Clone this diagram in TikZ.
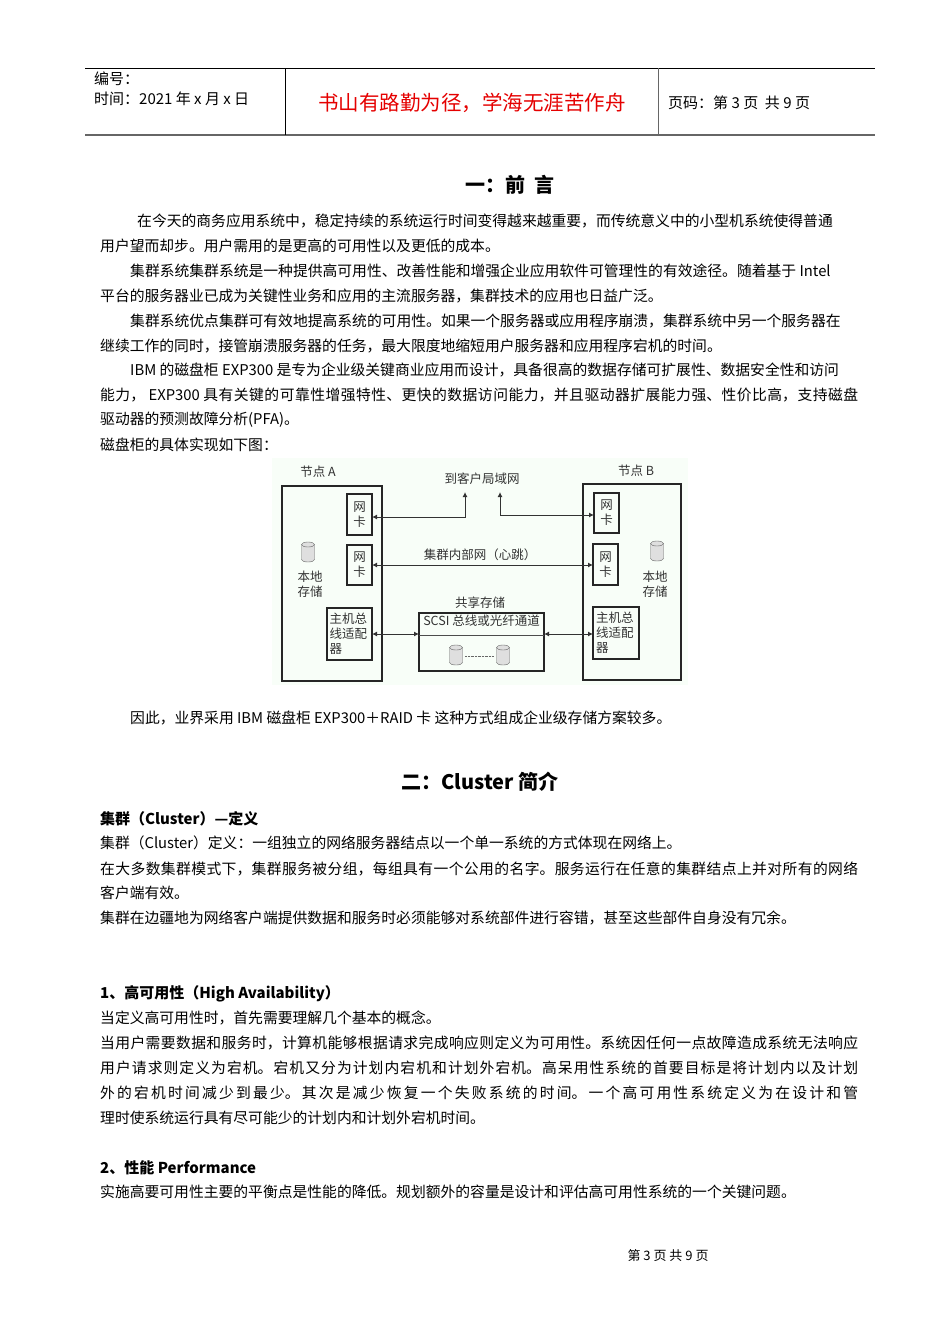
\documentclass[tikz,border=0pt]{standalone}
\usepackage{fontspec}
\setmainfont{Noto Sans CJK SC}
\usetikzlibrary{shapes.geometric,arrows.meta}
\definecolor{dg}{HTML}{333333}
\newcommand\jtxt[1]{\parbox{758pt}{\parfillskip=0pt\XeTeXlinebreaklocale "zh"\XeTeXlinebreakskip=0pt plus 4pt #1}}
\newcommand\cylx[2]{%
 \filldraw[draw=black!60,fill=gray!25] (#1-6.5,#2-7.5) -- (#1-6.5,#2+7.5) arc[start angle=180,end angle=360,x radius=6.5,y radius=-2.5] -- (#1+6.5,#2-7.5) arc[start angle=0,end angle=180,x radius=6.5,y radius=-2.5] -- cycle;
 \draw[black!60] (#1-6.5,#2-7.5) arc[start angle=180,end angle=360,x radius=6.5,y radius=-2.5];}
\tikzset{
 tl/.style={anchor=west,inner sep=0pt,font=\fontsize{14.8}{16}\selectfont},
 hd/.style={anchor=west,inner sep=0pt,font=\fontsize{15}{16}\selectfont\bfseries},
 dt/.style={inner sep=0pt,font=\fontsize{12.5}{15}\selectfont,text=dg,align=center},
 bx/.style={draw=black!85,line width=1.5pt},
 ar/.style={draw=black!80,line width=1pt,{Latex[length=5pt,width=5pt]}-{Latex[length=5pt,width=5pt]}}
}
\begin{document}
\begin{tikzpicture}[x=1pt,y=-1pt]
\useasboundingbox (0,0) rectangle (950,1344);
\fill[white] (0,0) rectangle (950,1344);
% header
\draw[line width=0.8pt] (85,68) -- (875,68);
\draw[line width=1.2pt,black!60] (85,135) -- (875,135);
\draw[line width=0.8pt] (285,68) -- (285,135);
\draw[line width=0.8pt,black!60] (658,68) -- (658,135);
\node[anchor=west,inner sep=0pt,font=\fontsize{15}{16}\selectfont] (h1) at (94,79) {编号：};
\node[anchor=west,inner sep=0pt,font=\fontsize{15}{16}\selectfont] (h2) at (94,99) {时间：2021 年 x 月 x 日};
\node[inner sep=0pt,text=red!90!black,font=\fontsize{20.5}{22}\selectfont] (h3) at (472,103) {书山有路勤为径，学海无涯苦作舟};
\node[anchor=west,inner sep=0pt,font=\fontsize{15}{16}\selectfont] (h4) at (668,103) {页码：第 3 页\ \ 共 9 页};
% section 1
\node[inner sep=0pt,font=\fontsize{20}{22}\selectfont\bfseries] (s1) at (510,185) {一：前\ \ 言};
\node[tl] (p1) at (137,221) {在今天的商务应用系统中，稳定持续的系统运行时间变得越来越重要，而传统意义中的小型机系统使得普通};
\node[tl] (p2) at (100,246) {用户望而却步。用户需用的是更高的可用性以及更低的成本。};
\node[tl] (p3) at (130,271) {集群系统集群系统是一种提供高可用性、改善性能和增强企业应用软件可管理性的有效途径。随着基于 Intel};
\node[tl] (p4) at (100,296) {平台的服务器业已成为关键性业务和应用的主流服务器，集群技术的应用也日益广泛。};
\node[tl] (p5) at (130,321) {集群系统优点集群可有效地提高系统的可用性。如果一个服务器或应用程序崩溃，集群系统中另一个服务器在};
\node[tl] (p6) at (100,346) {继续工作的同时，接管崩溃服务器的任务，最大限度地缩短用户服务器和应用程序宕机的时间。};
\node[tl] (p7) at (130,370) {IBM 的磁盘柜 EXP300 是专为企业级关键商业应用而设计，具备很高的数据存储可扩展性、数据安全性和访问};
\node[tl] (p8) at (100,395) {\jtxt{能力，\ EXP300 具有关键的可靠性增强特性、更快的数据访问能力，并且驱动器扩展能力强、性价比高，支持磁盘}};
\node[tl] (p9) at (100,420) {驱动器的预测故障分析(PFA)。};
\node[tl] (p10) at (100,445) {磁盘柜的具体实现如下图：};
% diagram
\fill[gray!12!green!3] (272,458) rectangle (688,685);
\node[dt] (la) at (318,472) {节点 A};
\node[dt] (lb) at (636,471) {节点 B};
\draw[bx] (282,486) rectangle (382,681);
\draw[bx] (583,484) rectangle (681,680);
\node[bx,dt,minimum width=25pt,minimum height=41pt] (na1) at (359.5,514.5) {网\\卡};
\node[bx,dt,minimum width=25pt,minimum height=40pt] (na2) at (359.5,565) {网\\卡};
\node[bx,dt,minimum width=45pt,minimum height=52pt,text width=40pt,align=left] (ha) at (349.5,634) {主机总\\线适配\\器};
\node[bx,dt,minimum width=25pt,minimum height=40pt] (nb1) at (606.5,513) {网\\卡};
\node[bx,dt,minimum width=25pt,minimum height=41pt] (nb2) at (605.5,564.5) {网\\卡};
\node[bx,dt,minimum width=46pt,minimum height=52pt,text width=40pt,align=left] (hb) at (616,633) {主机总\\线适配\\器};
\cylx{308}{552}
\node[dt] (ta) at (310,584) {本地\\存储};
\cylx{657}{551}
\node[dt] (tb) at (655,584) {本地\\存储};
\node[dt] (lan) at (482,479) {到客户局域网};
\node[dt] (sh) at (480,603) {共享存储};
\node[bx,minimum width=125pt,minimum height=58pt,inner sep=0pt] (st) at (481.5,642) {};
\node[dt,anchor=north] (stt) at (481.5,615) {SCSI 总线或光纤通道};
\coordinate (sl) at (419,635);
\coordinate (sr) at (544,635);
\draw[black!70] (sl) -- (sr);
\cylx{456}{655}
\cylx{503}{655}
\coordinate (c1) at (465,656);
\coordinate (c2) at (494,656);
\draw[black!60,densely dotted] (c1) -- (c2);
\coordinate (u1) at (465,492);
\coordinate (u2) at (500,492);
\coordinate (a1) at (372,517);
\coordinate (b1) at (594,515);
\coordinate (a2) at (372,565);
\coordinate (b2) at (593,565);
\coordinate (a3) at (372,634);
\coordinate (s3) at (419,634);
\coordinate (s4) at (544,634);
\coordinate (b3) at (593,634);
\draw[ar] (a1) -| (u1);
\draw[ar] (u2) |- (b1);
\draw[ar] (a2) -- (b2);
\node[dt] (hbt) at (480,555) {集群内部网（心跳）};
\draw[ar] (a3) -- (s3);
\draw[ar] (s4) -- (b3);
% after diagram
\node[tl] (q1) at (130,718) {因此，业界采用 IBM 磁盘柜\ EXP300＋RAID 卡\ 这种方式组成企业级存储方案较多。};
\node[inner sep=0pt,font=\fontsize{20}{22}\selectfont\bfseries] (s2) at (480,782) {二：Cluster 简介};
\node[hd] (d0) at (100,819) {集群（Cluster）—定义};
\node[tl] (d1) at (100,843) {集群（Cluster）定义：一组独立的网络服务器结点以一个单一系统的方式体现在网络上。};
\node[tl] (d2) at (100,869) {\jtxt{在大多数集群模式下，集群服务被分组，每组具有一个公用的名字。服务运行在任意的集群结点上并对所有的网络}};
\node[tl] (d3) at (100,893) {客户端有效。};
\node[tl] (d4) at (100,918) {集群在边疆地为网络客户端提供数据和服务时必须能够对系统部件进行容错，甚至这些部件自身没有冗余。};
\node[hd] (e0) at (100,994) {1、高可用性（High Availability）};
\node[tl] (e1) at (100,1018) {当定义高可用性时，首先需要理解几个基本的概念。};
\node[tl] (e2) at (100,1043) {\jtxt{当用户需要数据和服务时，计算机能够根据请求完成响应则定义为可用性。系统因任何一点故障造成系统无法响应}};
\node[tl] (e3) at (100,1068) {\jtxt{用户请求则定义为宕机。宕机又分为计划内宕机和计划外宕机。高呆用性系统的首要目标是将计划内以及计划}};
\node[tl] (e4) at (100,1093) {\jtxt{外的宕机时间减少到最少。其次是减少恢复一个失败系统的时间。一个高可用性系统定义为在设计和管}};
\node[tl] (e5) at (100,1118) {理时使系统运行具有尽可能少的计划内和计划外宕机时间。};
\node[hd] (f0) at (100,1168) {2、性能 Performance};
\node[tl] (f1) at (100,1192) {实施高要可用性主要的平衡点是性能的降低。规划额外的容量是设计和评估高可用性系统的一个关键问题。};
\node[inner sep=0pt,font=\fontsize{13}{15}\selectfont] (ft) at (668,1256) {第 3 页 共 9 页};
\end{tikzpicture}
\end{document}
